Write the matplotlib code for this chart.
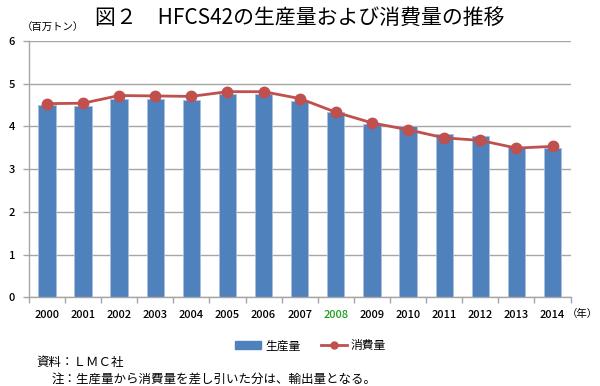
import matplotlib
matplotlib.use("Agg")
import matplotlib.pyplot as plt
import numpy as np
from matplotlib.lines import Line2D
from matplotlib.patches import Patch

plt.rcParams['font.family'] = ['Noto Sans CJK JP', 'DejaVu Sans']

years = ['2000', '2001', '2002', '2003', '2004', '2005', '2006', '2007',
         '2008', '2009', '2010', '2011', '2012', '2013', '2014']
production = [4.50, 4.47, 4.65, 4.64, 4.62, 4.75, 4.76, 4.60,
              4.34, 4.05, 4.01, 3.82, 3.77, 3.52, 3.49]
consumption = [4.53, 4.54, 4.72, 4.71, 4.70, 4.81, 4.81, 4.65,
               4.33, 4.08, 3.92, 3.73, 3.67, 3.49, 3.53]
yticks = [0, 1, 2, 3, 4, 5, 6]

title = '図２　HFCS42の生産量および消費量の推移'
unit_label = '（百万トン）'
year_label = '（年）'
series_names = ['生産量', '消費量']
note1 = '資料：ＬＭＣ社'
note2 = '注：生産量から消費量を差し引いた分は、輸出量となる。'

bar_color = '#4F81BD'
line_color = '#C0504D'
grid_color = '#A6A6A6'

fig = plt.figure(figsize=(6, 3.86), dpi=100)
ax = fig.add_axes([0.048, 0.2298, 0.903, 0.6645])

x = np.arange(len(years))
ax.bar(x, production, width=0.48, color=bar_color, edgecolor='#A9C0DE',
       linewidth=0.6, zorder=2)
ax.plot(x, consumption, color=line_color, linewidth=2.0, marker='o',
        markersize=7.5, zorder=3)

ax.set_xlim(-0.5, len(years) - 0.5)
ax.set_ylim(0, 6)
ax.set_yticks(yticks)
ax.set_yticklabels([str(v) for v in yticks], fontsize=8, fontweight='medium')
ax.yaxis.grid(True, color=grid_color, linewidth=1.0, zorder=0)
ax.set_axisbelow(True)

ax.set_xticks(np.arange(-0.5, len(years), 1.0))
ax.set_xticklabels([])
ax.set_xticks(x, minor=True)
ax.set_xticklabels(years, minor=True, fontsize=8, fontweight='medium')
ax.tick_params(axis='x', which='major', length=4, color=grid_color, width=1)
ax.tick_params(axis='x', which='minor', length=0, pad=9)
ax.tick_params(axis='y', length=4, color=grid_color, width=1, pad=6)
for lbl in ax.get_xticklabels(minor=True):
    if lbl.get_text() == '2008':
        lbl.set_color('#1E9E1E')

for side in ['top', 'right']:
    ax.spines[side].set_visible(False)
for side in ['left', 'bottom']:
    ax.spines[side].set_color(grid_color)
    ax.spines[side].set_linewidth(1.0)

fig.text(0.5, 0.955, title, ha='center', va='center', fontsize=15)
fig.text(0.036, 0.927, unit_label, ha='left', va='center', fontsize=7.5)
fig.text(0.997, 0.186, year_label, ha='right', va='center', fontsize=7.5)

handles = [Patch(facecolor=bar_color, edgecolor=bar_color),
           Line2D([0], [0], color=line_color, linewidth=2.0, marker='o',
                  markersize=5)]
fig.legend(handles, series_names, loc='center', bbox_to_anchor=(0.518, 0.104),
           ncol=2, frameon=False, fontsize=8.5, handlelength=2.2,
           handleheight=0.6, columnspacing=1.8, handletextpad=0.3)

fig.text(0.061, 0.062, note1, ha='left', va='center', fontsize=9)
fig.text(0.086, 0.018, note2, ha='left', va='center', fontsize=9)

fig.savefig('out.png', dpi=100, facecolor='white')
